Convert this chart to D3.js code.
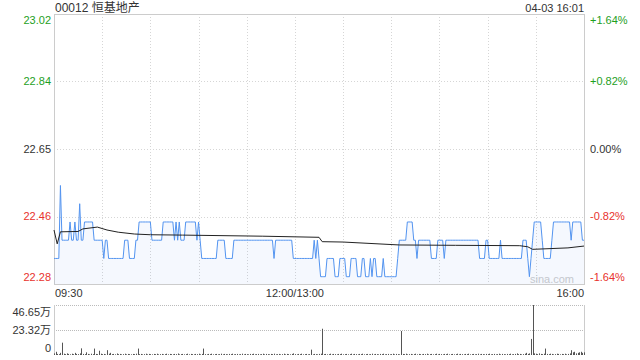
<!DOCTYPE html>
<html>
<head>
<meta charset="utf-8">
<script src="https://cdn.jsdelivr.net/npm/d3@7"></script>
<style>
  body { margin: 0; background: #fff; }
  svg { display: block; font-family: "Liberation Sans", Arial, "Noto Sans CJK SC", sans-serif; }
</style>
</head>
<body>
<svg id="chart" width="640" height="360"></svg>
<script>
// price changes per minute: [minute index, price], each holds until the next entry
const priceRuns = [
  [0, 22.35], [4, 22.55], [5, 22.40], [10, 22.45], [11, 22.40], [13, 22.45], [14, 22.40],
  [16, 22.50], [17, 22.40], [19, 22.45], [25, 22.40], [31, 22.35], [32, 22.40], [34, 22.35],
  [44, 22.40], [47, 22.35], [51, 22.40], [53, 22.45], [61, 22.40], [68, 22.45], [75, 22.40],
  [76, 22.45], [77, 22.40], [78, 22.45], [79, 22.40], [82, 22.45], [89, 22.40], [90, 22.45],
  [91, 22.40], [92, 22.35], [102, 22.40], [107, 22.35], [112, 22.40], [137, 22.35], [138, 22.40],
  [149, 22.35], [162, 22.40], [163, 22.35], [164, 22.40], [165, 22.35], [166, 22.30], [170, 22.35],
  [175, 22.30], [178, 22.35], [182, 22.30], [185, 22.35], [189, 22.30], [192, 22.35], [194, 22.30],
  [197, 22.35], [198, 22.30], [199, 22.35], [201, 22.30], [205, 22.35], [206, 22.30], [214, 22.35],
  [215, 22.40], [220, 22.45], [224, 22.40], [226, 22.35], [227, 22.40], [235, 22.35], [239, 22.40],
  [243, 22.35], [244, 22.40], [265, 22.35], [269, 22.40], [271, 22.35], [278, 22.40], [279, 22.35],
  [292, 22.40], [295, 22.35], [296, 22.30], [297, 22.35], [298, 22.40], [299, 22.45], [304, 22.40],
  [305, 22.35], [310, 22.40], [311, 22.45], [322, 22.40], [323, 22.45], [329, 22.40]
];
const lastMinute = 330;

// average price line, read at key minutes
const avgMinutes = [0, 2, 4, 15, 18, 27, 33, 40, 50, 60, 80, 130, 165, 167, 180, 215, 250, 290, 295, 298, 320, 330];
const avgPrices = [22.428, 22.39, 22.423, 22.424, 22.431, 22.436, 22.428, 22.422, 22.417, 22.415, 22.414,
  22.411, 22.408, 22.396, 22.395, 22.387, 22.386, 22.385, 22.382, 22.375, 22.379, 22.384];

// volume per minute, in 万 shares
const volumes = [
  1.5, 3, 1, 0.8, 2, 11.5, 1.2, 0.8, 1.5, 1, 0.6, 1.2, 0.8, 2, 1, 0.8, 1.5, 6.2, 1, 0.8, 2.5, 1, 0.6, 1.2, 0.8, 6, 1, 0.8, 4, 1.2,
  0.8, 1, 0.6, 4.5, 1.2, 2, 0.8, 1, 0.6, 1.4, 0.8, 1, 0.6, 0.8, 1.2, 0.6, 1, 0.8, 0.6, 1, 0.8, 1.2, 6, 0.8, 1, 0.6, 0.8, 1.2, 0.6, 1,
  0.8, 0.6, 1, 0.8, 1.2, 0.6, 0.8, 1, 0.6, 0.8, 1.2, 0.6, 1, 0.8, 0.6, 1, 0.8, 1.4, 0.6, 0.8, 1, 0.6, 0.8, 1.2, 0.6, 1, 0.8, 0.6, 1, 0.8,
  1.2, 0.6, 1, 6, 0.8, 0.6, 1, 0.8, 1.2, 0.6, 0.8, 1, 0.6, 0.8, 1.2, 0.6, 1, 0.8, 0.6, 1, 0.8, 1.2, 0.6, 0.8, 1, 0.6, 0.8, 1.2, 0.6, 1,
  0.8, 0.6, 1, 0.8, 1.2, 0.6, 0.8, 1, 0.6, 0.8, 1.2, 0.6, 1, 0.8, 0.6, 1, 0.8, 1.2, 0.6, 0.8, 1, 0.6, 0.8, 1.2, 0.6, 1, 0.8, 0.6, 1, 1.5,
  0.8, 0.6, 1, 0.8, 1.2, 0.6, 0.8, 1, 0.6, 0.8, 5, 0.6, 1, 0.8, 0.6, 1, 1.2, 24.5, 0.8, 1, 0.6, 0.8, 1.2, 0.6, 1, 0.8, 0.6, 1, 0.8, 1.2,
  0.6, 0.8, 1, 0.6, 0.8, 1.2, 0.6, 1, 0.8, 0.6, 1, 0.8, 1.2, 0.6, 0.8, 1, 0.6, 0.8, 1.2, 0.6, 1, 0.8, 0.6, 1, 0.8, 1.2, 0.6, 0.8, 1, 0.6,
  0.8, 1.2, 0.6, 1, 0.8, 0.6, 22.4, 1, 0.8, 1.2, 0.6, 0.8, 1, 0.6, 0.8, 1.2, 0.6, 1, 0.8, 0.6, 1, 0.8, 1.2, 0.6, 0.8, 1, 0.6, 0.8, 1.2, 0.6,
  1, 0.8, 0.6, 1, 0.8, 1.2, 0.6, 0.8, 1, 0.6, 0.8, 1.2, 0.6, 1, 0.8, 0.6, 1, 0.8, 1.2, 0.6, 0.8, 1, 0.6, 0.8, 1.2, 0.6, 1, 0.8, 0.6, 1,
  0.8, 1.2, 0.6, 0.8, 1, 0.6, 0.8, 1.2, 0.6, 1, 0.8, 0.6, 1, 0.8, 1.2, 0.6, 0.8, 1, 1.5, 0.8, 1, 0.6, 0.8, 1.2, 2, 1, 1.5, 15, 46.65, 1.5,
  1.2, 0.8, 1.5, 1, 0.8, 1.2, 6, 1, 0.8, 1.2, 1, 0.6, 0.8, 1.2, 1, 0.6, 1, 0.8, 1.2, 0.6, 1, 1.5, 4.5, 2.5, 3, 1.5, 2, 2.5, 3, 2,
  2.5
];

const priceTicks = [23.02, 22.835, 22.65, 22.465, 22.28];
const priceLabels = ['23.02', '22.84', '22.65', '22.46', '22.28'];
const pctLabels = ['+1.64%', '+0.82%', '0.00%', '-0.82%', '-1.64%'];
const volTicks = [46.65, 23.32, 0];
const volLabels = ['46.65万', '23.32万', '0'];
const timeLabels = ['09:30', '12:00/13:00', '16:00'];
const timeTicks = [0, 150, 330];
const title = '00012 恒基地产';
const stamp = '04-03 16:01';

const green = '#1ea01e', red = '#e8322d', grey = '#333';
const labelColor = [green, green, grey, red, red];

const L = 54, R = 584, T = 14, B = 284, VT = 305, VB = 355;
const svg = d3.select('#chart');

const x = d3.scaleLinear().domain([0, lastMinute]).range([L, R]);
const y = d3.scaleLinear().domain([22.28, 23.02]).range([B, T]);
const yv = d3.scaleLinear().domain([0, 46.65]).range([VB, VT]);

// expand runs into minute points
const prices = [];
priceRuns.forEach((r, i) => {
  const end = i < priceRuns.length - 1 ? priceRuns[i + 1][0] : lastMinute + 1;
  for (let m = r[0]; m < end; m++) prices.push([m, r[1]]);
});

// grid
const vGrid = d3.range(30, lastMinute, 30);
svg.append('g').selectAll('line').data(vGrid).join('line')
  .attr('x1', d => Math.round(x(d)) + 0.5).attr('x2', d => Math.round(x(d)) + 0.5)
  .attr('y1', T).attr('y2', B)
  .attr('stroke', '#d6d6d6').attr('stroke-dasharray', '1,2');
svg.append('g').selectAll('line').data(priceTicks.slice(1, 4)).join('line')
  .attr('x1', L).attr('x2', R)
  .attr('y1', d => Math.round(y(d)) + 0.5).attr('y2', d => Math.round(y(d)) + 0.5)
  .attr('stroke', '#d6d6d6').attr('stroke-dasharray', '1,2');
svg.append('g').selectAll('line').data(volTicks.slice(0, 2)).join('line')
  .attr('x1', L).attr('x2', R)
  .attr('y1', d => Math.round(yv(d)) + 0.5).attr('y2', d => Math.round(yv(d)) + 0.5)
  .attr('stroke', '#bbb').attr('stroke-dasharray', '1,1');

// frames
svg.append('rect').attr('x', L + 0.5).attr('y', T + 0.5).attr('width', R - L).attr('height', B - T)
  .attr('fill', 'none').attr('stroke', '#ccc');
svg.append('line').attr('x1', L + 0.5).attr('x2', L + 0.5).attr('y1', VT).attr('y2', VB)
  .attr('stroke', '#ccc');
svg.append('line').attr('x1', R + 0.5).attr('x2', R + 0.5).attr('y1', VT).attr('y2', VB)
  .attr('stroke', '#ccc');

// watermark
svg.append('text').attr('x', 552).attr('y', 283).attr('text-anchor', 'middle')
  .attr('font-size', 11).attr('fill', '#ccc').text('sina.com');

// price area + line
const area = d3.area().x(d => x(d[0])).y0(B).y1(d => y(d[1]));
svg.append('path').datum(prices).attr('d', area).attr('fill', 'rgba(77,143,236,0.06)');
const line = d3.line().x(d => x(d[0])).y(d => y(d[1]));
svg.append('path').datum(prices).attr('d', line)
  .attr('fill', 'none').attr('stroke', '#5394f0').attr('stroke-width', 1);

// average line
const avg = avgMinutes.map((m, i) => [m, avgPrices[i]]);
svg.append('path').datum(avg).attr('d', line)
  .attr('fill', 'none').attr('stroke', '#222').attr('stroke-width', 1);

// volume bars
svg.append('g').selectAll('line').data(volumes).join('line')
  .attr('x1', (d, i) => Math.round(x(i)) + 0.5).attr('x2', (d, i) => Math.round(x(i)) + 0.5)
  .attr('y1', VB).attr('y2', d => yv(d))
  .attr('stroke', '#555').attr('stroke-width', 1);

// left / right price labels
const tickDy = [6, 0, 0, 0, -7];
svg.append('g').selectAll('text').data(priceTicks).join('text')
  .attr('x', 51).attr('y', (d, i) => y(d) + tickDy[i]).attr('dy', '0.35em')
  .attr('text-anchor', 'end').attr('font-size', 11)
  .attr('fill', (d, i) => labelColor[i]).text((d, i) => priceLabels[i]);
svg.append('g').selectAll('text').data(priceTicks).join('text')
  .attr('x', 590).attr('y', (d, i) => y(d) + tickDy[i]).attr('dy', '0.35em')
  .attr('font-size', 11)
  .attr('fill', (d, i) => labelColor[i]).text((d, i) => pctLabels[i]);

// volume labels
const volDy = [7, 0, -7];
svg.append('g').selectAll('text').data(volTicks).join('text')
  .attr('x', 51).attr('y', (d, i) => yv(d) + volDy[i]).attr('dy', '0.35em')
  .attr('text-anchor', 'end').attr('font-size', 11).attr('fill', grey)
  .text((d, i) => volLabels[i]);

// time labels
const anchors = ['start', 'middle', 'end'];
svg.append('g').selectAll('text').data(timeTicks).join('text')
  .attr('x', d => x(d) + (d === 0 ? 1 : 0)).attr('y', 293).attr('dy', '0.35em')
  .attr('text-anchor', (d, i) => anchors[i]).attr('font-size', 11).attr('fill', grey)
  .text((d, i) => timeLabels[i]);

// header
svg.append('text').attr('x', L + 1).attr('y', 12).attr('font-size', 12).attr('fill', grey).text(title);
svg.append('text').attr('x', R).attr('y', 12).attr('text-anchor', 'end')
  .attr('font-size', 11).attr('fill', grey).text(stamp);
</script>
</body>
</html>
